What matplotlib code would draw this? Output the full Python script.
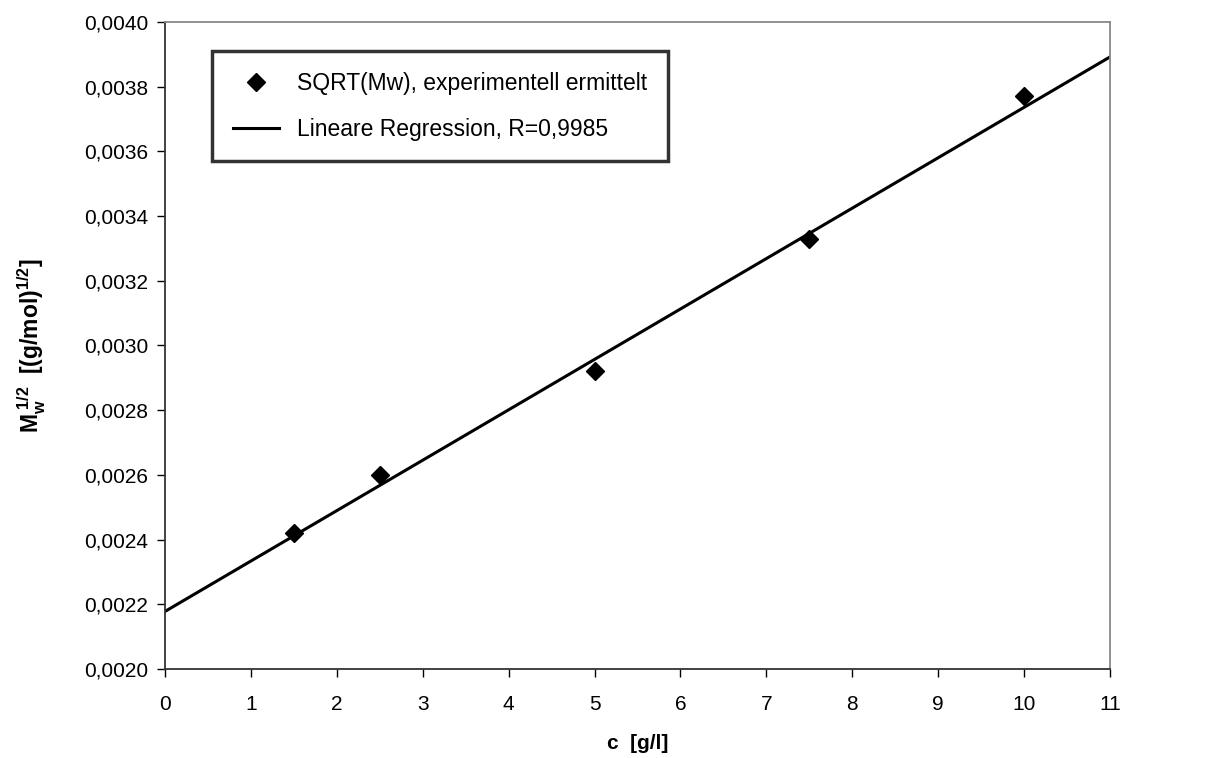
import numpy as np
import matplotlib
matplotlib.use("Agg")
import matplotlib.pyplot as plt
from matplotlib.ticker import FuncFormatter, MultipleLocator

# =========================================
# Data
# =========================================
conc = [1.5, 2.5, 5.0, 7.5, 10.0]                    # c [g/l]
sqrt_mw = [0.00242, 0.00260, 0.00292, 0.00333, 0.00377]
fit_intercept = 0.002178
fit_slope = 0.0001558
fit_x = [0, 11]

label_points = "SQRT(Mw), experimentell ermittelt"
label_fit = "Lineare Regression, R=0,9985"

plt.rcParams['font.family'] = ['Liberation Sans', 'DejaVu Sans']
plt.rcParams['mathtext.fontset'] = 'custom'
plt.rcParams['mathtext.rm'] = 'Liberation Sans'
plt.rcParams['mathtext.bf'] = 'Liberation Sans:bold'
plt.rcParams['mathtext.it'] = 'Liberation Sans:italic'

# =========================================
# Figure
# =========================================
fig = plt.figure(figsize=(12.17, 7.58), dpi=100)
ax = fig.add_axes([0.1356, 0.1174, 0.7764, 0.8536])

ax.plot(conc, sqrt_mw, linestyle='none', marker='D', markersize=9,
        color='black', label=label_points, zorder=3)
fit_y = [fit_intercept + fit_slope * x for x in fit_x]
ax.plot(fit_x, fit_y, color='black', lw=2.2, label=label_fit, zorder=2)

ax.set_xlim(0, 11)
ax.set_ylim(0.0020, 0.0040)
ax.xaxis.set_major_locator(MultipleLocator(1))
ax.yaxis.set_major_locator(MultipleLocator(0.0002))
ax.yaxis.set_major_formatter(FuncFormatter(lambda v, p: f"{v:.4f}".replace('.', ',')))

ax.tick_params(direction='out', length=6, width=1, labelsize=15, colors='black')
ax.tick_params(axis='x', pad=13)
ax.tick_params(axis='y', pad=6)
for side in ['left', 'bottom']:
    ax.spines[side].set_color('#333333')
    ax.spines[side].set_linewidth(1.3)
for side in ['top', 'right']:
    ax.spines[side].set_color('#888888')
    ax.spines[side].set_linewidth(1.3)

ax.set_xlabel("c  [g/l]", fontsize=15, fontweight='bold', labelpad=14)
ax.set_ylabel(r"$\mathbf{M_w^{\ 1/2}\ \ [(g/mol)^{1/2}]}$", fontsize=16.5, labelpad=26)

leg = ax.legend(loc='upper left', bbox_to_anchor=(0.05, 0.955), fontsize=16.5,
                frameon=True, fancybox=False, borderpad=0.9, labelspacing=1.0,
                handlelength=2.0, handletextpad=0.8, borderaxespad=0)
leg.get_frame().set_edgecolor('black')
leg.get_frame().set_linewidth(2.5)

fig.savefig("out.png", dpi=100)
